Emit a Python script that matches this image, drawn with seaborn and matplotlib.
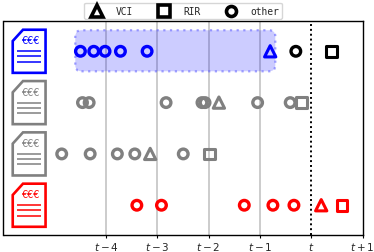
import matplotlib
matplotlib.use('Agg')
import matplotlib.pyplot as plt
from matplotlib.lines import Line2D
from matplotlib.patches import FancyBboxPatch, Polygon
import pandas as pd
import seaborn as sns

# offsets in years relative to t, one row per document
row_y = [4, 3, 2, 1]
row_colors = ['blue', 'gray', 'gray', 'red']

other_x = [[-4.50, -4.24, -4.02, -3.72, -3.20],
           [-4.46, -4.33, -2.83, -2.13, -2.07, -1.045, -0.41],
           [-4.865, -4.31, -3.78, -3.44, -2.495],
           [-3.40, -2.92, -1.305, -0.747, -0.337]]
vci_x = [-0.80, -1.80, -3.14, 0.195]
rir_x = [None, -0.195, -1.99, 0.60]

# the target document of the first row is drawn in black
black_other_x = [-0.30]
black_rir_x = [0.40]

tick_pos = [-4, -3, -2, -1, 0, 1]
tick_labels = ['$t-4$', '$t-3$', '$t-2$', '$t-1$', '$t$', '$t+1$']
grid_pos = [-4, -3, -2, -1]


def make_frame():
    rows = []
    for i, y in enumerate(row_y):
        c = row_colors[i]
        for x in other_x[i]:
            rows.append((x, y, c, 'other'))
        rows.append((vci_x[i], y, c, 'VCI'))
        if rir_x[i] is not None:
            rows.append((rir_x[i], y, c, 'RIR'))
    for x in black_other_x:
        rows.append((x, row_y[0], 'black', 'other'))
    for x in black_rir_x:
        rows.append((x, row_y[0], 'black', 'RIR'))
    return pd.DataFrame(rows, columns=['x', 'y', 'color', 'kind'])


def draw_doc(ax, y, color):
    """document icon with cut corner"""
    cx = -5.5
    pts = [(cx - 0.32, y - 0.42), (cx + 0.32, y - 0.42), (cx + 0.32, y + 0.42),
           (cx - 0.12, y + 0.42), (cx - 0.32, y + 0.20)]
    ax.add_patch(Polygon(pts, closed=True, facecolor='white', edgecolor=color,
                         linewidth=1.9, joinstyle='miter', zorder=3))
    for dy in [0.0, -0.10, -0.20]:
        ax.plot([cx - 0.24, cx + 0.24], [y + dy, y + dy], color=color, lw=1.1,
                solid_capstyle='butt', zorder=4)
    ax.text(cx + 0.03, y + 0.215, '€€€', color=color, fontsize=7, ha='center',
            va='center', zorder=4)


sns.set_style('ticks')
plt.rcParams['font.family'] = ['DejaVu Sans']

fig = plt.figure(figsize=(3.74, 2.53), dpi=100)
ax = fig.add_axes([3.5 / 374, 1 - 236 / 253, 359 / 374, 214.5 / 253])

ax.set_xlim(-6, 1)
ax.set_ylim(0.42, 4.60)

for g in grid_pos:
    ax.axvline(g, color='#cccccc', lw=1.4, zorder=1)
ax.axvline(0, color='black', lw=1.4, ls=(0, (1, 1.5)), zorder=1)

# highlighted window on the first row
ax.add_patch(FancyBboxPatch((-4.6, 3.61), 3.9, 0.80,
                            boxstyle='round,pad=0.0,rounding_size=0.12',
                            facecolor=(0, 0, 1, 0.2), edgecolor=(0.4, 0.4, 1, 0.6),
                            lw=1.6, ls=(0, (1, 2)), zorder=2))

df = make_frame()
markers = {'other': 'o', 'VCI': '^', 'RIR': 's'}
sizes = {'other': 48, 'VCI': 66, 'RIR': 60}
widths = {'other': 2.4, 'VCI': 2.2, 'RIR': 2.2}
for (c, k), part in df.groupby(['color', 'kind']):
    sns.scatterplot(data=part, x='x', y='y', ax=ax, marker=markers[k], s=sizes[k],
                    facecolor='none', edgecolor=c, linewidth=widths[k], zorder=5, legend=False)

for y, c in zip(row_y, row_colors):
    draw_doc(ax, y, c)

ax.set_xlabel('')
ax.set_ylabel('')
ax.set_yticks([])
ax.set_xticks(tick_pos)
ax.set_xticklabels(tick_labels, fontsize=7.5)
ax.tick_params(axis='x', length=2.5, width=0.8, pad=0.8, color='black')
for s in ax.spines.values():
    s.set_visible(True)
    s.set_color('black')
    s.set_linewidth(1.0)

handles = [Line2D([], [], ls='', marker=markers[k], mfc='none', mec='black', mew=2.6,
                  ms=8.5 if k != 'other' else 7.2, label=k) for k in ['VCI', 'RIR', 'other']]
leg = fig.legend(handles=handles, loc='upper center', bbox_to_anchor=(183 / 374, 1.005), ncol=3,
                 frameon=True, prop={'family': 'DejaVu Sans Mono', 'size': 6.9},
                 columnspacing=2.2, handletextpad=1.0, borderpad=0.35)

fig.savefig('out.png', dpi=100)
